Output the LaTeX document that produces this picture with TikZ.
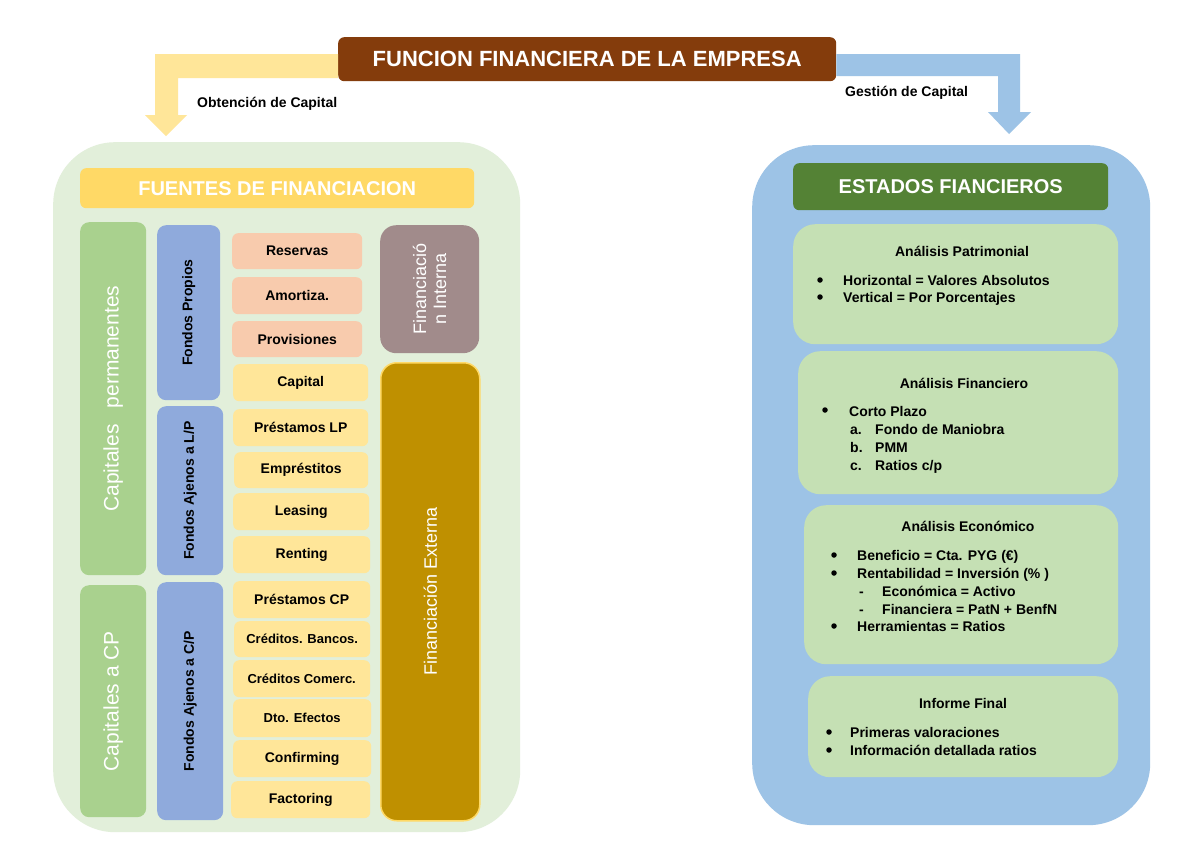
\documentclass[tikz,border=0pt]{standalone}
\usepackage{fontspec}
\setmainfont{Liberation Sans}
\definecolor{brownT}{HTML}{843C0C}
\definecolor{yelA}{HTML}{FFE699}
\definecolor{bluA}{HTML}{9DC3E6}
\definecolor{lgreen}{HTML}{E2EFDA}
\definecolor{gold}{HTML}{FFD966}
\definecolor{greenA}{HTML}{A9D18E}
\definecolor{blueB}{HTML}{8FAADC}
\definecolor{salmon}{HTML}{F8CBAD}
\definecolor{mauve}{HTML}{A18B8B}
\definecolor{ochre}{HTML}{BF9000}
\definecolor{dgreen}{HTML}{548235}
\definecolor{pgreen}{HTML}{C5E0B4}
\newcommand{\rb}[7]{\node[box,#6,minimum width=#4pt,minimum height=#5pt] (#1) at (#2,#3) {#7};}
\newcommand{\fs}[1]{\fontsize{#1}{#1}\selectfont}
\begin{document}
\begin{tikzpicture}[x=1pt,y=-1pt,
  box/.style={rectangle, rounded corners=6pt, inner sep=0pt, anchor=north west, draw=none, align=center},
  item/.style={font=\bfseries\fs{14}, text=black, inner sep=0pt},
  wtitle/.style={font=\bfseries\fs{20}, text=white},
  vtxt/.style={rotate=90, inner sep=0pt, align=center},
  small/.style={font=\bfseries\fs{14}, text=black},
  lst/.style={font=\bfseries\fs{14}, text=black, inner sep=0pt, anchor=base west, yshift=-5pt},
  dot/.style={circle, fill=black, inner sep=0pt, minimum size=5.5pt},
]
\useasboundingbox (0,0) rectangle (1200,849);
\fill[white] (0,0) rectangle (1200,849);

% title
\rb{title}{338}{37}{498}{44}{fill=brownT}{\textcolor{white}{\bfseries\fs{22}FUNCION FINANCIERA DE LA EMPRESA}}

% arrows
\fill[yelA] (title.west |- 0,54) -- (155,54) -- (155,115) -- (145,115) -- (166,136) -- (187,115) -- (178,115) -- (178,78) -- (title.west |- 0,78) -- cycle;
\fill[bluA] (title.east |- 0,54) -- (1020,54) -- (1020,112) -- (1031,112) -- (1009,134) -- (988,112) -- (998,112) -- (998,76) -- (title.east |- 0,76) -- cycle;
\node[small, anchor=west, inner sep=0pt] (obt) at (197,104) {Obtención de Capital};
\node[small, anchor=west, inner sep=0pt] (ges) at (845,93) {Gestión de Capital};

% left panel
\rb{lp}{53}{142}{467}{690}{fill=lgreen, rounded corners=62pt}{}
\rb{fuentes}{80}{168}{394}{40}{fill=gold}{}
\node[wtitle] at (fuentes.center) {FUENTES DE FINANCIACION};

\rb{cperm}{80}{222}{66}{353}{fill=greenA, rounded corners=9pt}{}
\rb{ccp}{80}{585}{66}{232}{fill=greenA, rounded corners=9pt}{}
\node[vtxt, text=white, font=\fs{21}] (tperm) at (cperm.center) {Capitales\hspace{16pt}permanentes};
\node[vtxt, text=white, font=\fs{21}] (tccp) at (ccp.center) {Capitales a CP};

\rb{fp}{157}{225}{63}{175}{fill=blueB, rounded corners=9pt}{}
\rb{fal}{157}{406}{66}{169}{fill=blueB, rounded corners=9pt}{}
\rb{fac}{157}{582}{66}{238}{fill=blueB, rounded corners=9pt}{}
\node[vtxt, font=\bfseries\fs{14}] (tfp) at (fp.center) {Fondos Propios};
\node[vtxt, font=\bfseries\fs{14}] (tfal) at (fal.center) {Fondos Ajenos a L/P};
\node[vtxt, font=\bfseries\fs{14}] (tfac) at (fac.center) {Fondos Ajenos a C/P};

\rb{res}{232}{233}{130}{36}{fill=salmon, item}{Reservas}
\rb{amo}{232}{277}{130}{37}{fill=salmon, item}{Amortiza.}
\rb{pro}{232}{321}{130}{36}{fill=salmon, item}{Provisiones}

\rb{cap}{233}{364}{135}{37}{fill=yelA, item}{Capital}
\rb{plp}{233}{409}{135}{37}{fill=yelA, item}{Préstamos LP}
\rb{emp}{234}{452}{134}{36}{fill=yelA, item}{Empréstitos}
\rb{lea}{233}{493}{136}{37}{fill=yelA, item}{Leasing}
\rb{ren}{233}{536}{137}{37}{fill=yelA, item}{Renting}
\rb{pcp}{233}{581}{137}{37}{fill=yelA, item}{Préstamos CP}
\rb{cba}{234}{621}{136}{36}{fill=yelA, item, font=\bfseries\fs{13}}{Créditos. Bancos.}
\rb{cco}{233}{660}{137}{37}{fill=yelA, item, font=\bfseries\fs{13}}{Créditos Comerc.}
\rb{dto}{233}{699}{138}{38}{fill=yelA, item, font=\bfseries\fs{13}}{Dto. Efectos}
\rb{con}{233}{740}{138}{37}{fill=yelA, item}{Confirming}
\rb{fac2}{231}{781}{139}{37}{fill=yelA, item}{Factoring}

\rb{fint}{380}{225}{99}{128}{fill=mauve, rounded corners=16pt}{}
\node[vtxt, text=white, font=\fontsize{18}{20}\selectfont] (tfint) at (fint.center) {Financiació\\n Interna};
\rb{fext}{380}{362}{99}{458}{fill=ochre, draw=gold, line width=1.5pt, rounded corners=16pt}{}
\node[vtxt, text=white, font=\fs{18}] (tfext) at (fext.center) {Financiación Externa};

% right panel
\rb{rp}{752}{145}{398}{680}{fill=bluA, rounded corners=62pt}{}
\rb{est}{793}{163}{315}{47}{fill=dgreen}{}
\node[wtitle] at (est.center) {ESTADOS FIANCIEROS};

\rb{ap}{793}{224}{325}{120}{fill=pgreen, rounded corners=22pt}{}
\rb{af}{798}{351}{320}{143}{fill=pgreen, rounded corners=22pt}{}
\rb{ae}{804}{505}{314}{159}{fill=pgreen, rounded corners=22pt}{}
\rb{inf}{808}{676}{310}{101}{fill=pgreen, rounded corners=22pt}{}

\node[item] (apt) at (962,251) {Análisis Patrimonial};
\node[dot] (ap1b) at (820,280) {};
\node[lst] (ap1) at (843,280) {Horizontal = Valores Absolutos};
\node[dot] (ap2b) at (820,297) {};
\node[lst] (ap2) at (843,297) {Vertical = Por Porcentajes};

\node[item] (aft) at (964,383) {Análisis Financiero};
\node[dot] (af1b) at (825,410) {};
\node[lst] (af1) at (849,411) {Corto Plazo};
\node[lst] (af2a) at (850,429) {a.};
\node[lst] (af2) at (875,429) {Fondo de Maniobra};
\node[lst] (af3a) at (850,447) {b.};
\node[lst] (af3) at (875,447) {PMM};
\node[lst] (af4a) at (850,465) {c.};
\node[lst] (af4) at (875,465) {Ratios c/p};

\node[item] (aet) at (968,526) {Análisis Económico};
\node[dot] (ae1b) at (834,555) {};
\node[lst] (ae1) at (857,555) {Beneficio = Cta. PYG (€)};
\node[dot] (ae2b) at (834,573) {};
\node[lst] (ae2) at (857,573) {Rentabilidad = Inversión (\% )};
\node[lst] (ae3a) at (859,591) {-};
\node[lst] (ae3) at (882,591) {Económica = Activo};
\node[lst] (ae4a) at (859,609) {-};
\node[lst] (ae4) at (882,609) {Financiera = PatN + BenfN};
\node[dot] (ae5b) at (834,626) {};
\node[lst] (ae5) at (857,626) {Herramientas = Ratios};

\node[item] (ift) at (963,703) {Informe Final};
\node[dot] (if1b) at (829,732) {};
\node[lst] (if1) at (850,732) {Primeras valoraciones};
\node[dot] (if2b) at (829,750) {};
\node[lst] (if2) at (850,750) {Información detallada ratios};
\end{tikzpicture}
\end{document}
